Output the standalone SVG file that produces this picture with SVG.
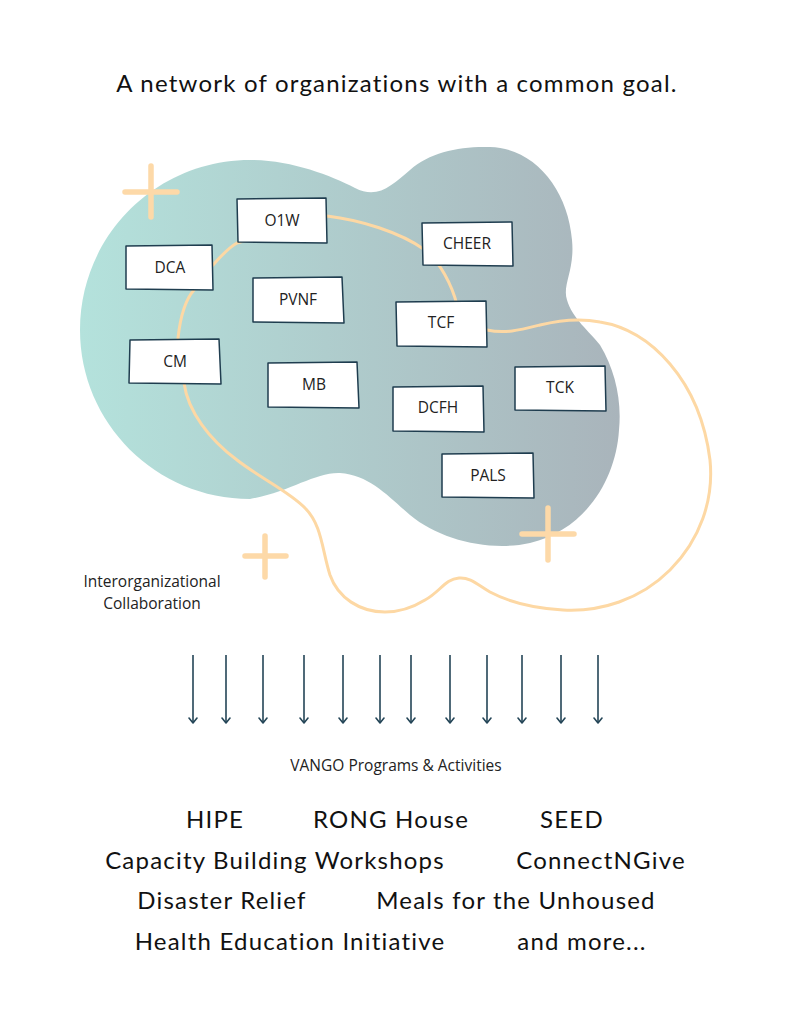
<svg xmlns="http://www.w3.org/2000/svg" width="791" height="1024" viewBox="0 0 791 1024">
<defs>
<linearGradient id="blobGrad" x1="80" y1="0" x2="620" y2="0" gradientUnits="userSpaceOnUse">
<stop offset="0" stop-color="#b4e2dc"/>
<stop offset="1" stop-color="#a9b4bb"/>
</linearGradient>
<marker id="arrow" viewBox="0 0 10 10" refX="9" refY="5" markerWidth="10" markerHeight="10" markerUnits="userSpaceOnUse" orient="auto">
<path d="M4,1 L9,5 L4,9" fill="none" stroke="#244557" stroke-width="1.6" stroke-linecap="round" stroke-linejoin="round"/>
</marker>
<style>
.box{fill:#ffffff;stroke:#1f3d4f;stroke-width:1.5;stroke-linejoin:round}
.lbl{font-family:"Open Sans","Noto Sans",sans-serif;font-size:15.5px;fill:#222;text-anchor:middle}
.loop{fill:none;stroke:#fdd8a4;stroke-width:3;stroke-linecap:round}
.plus{fill:none;stroke:#fdd9a8;stroke-width:5.5;stroke-linecap:round}
.arr{stroke:#244557;stroke-width:1.6;fill:none}
.big{font-family:"Lato","Noto Sans",sans-serif;font-size:24px;letter-spacing:1.2px;fill:#111;text-anchor:middle}
.small{font-family:"Open Sans","Noto Sans",sans-serif;font-size:15.5px;fill:#222;text-anchor:middle}
</style>
</defs>
<rect width="791" height="1024" fill="#ffffff"/>
<text class="big" x="397" y="92">A network of organizations with a common goal.</text>

<g id="blob">
<path d="M80,330 C80,236 156,160 250,160 C290,160 330,175 355,188 C378,200 392,185 410,170 C430,152 460,146 490,147 C535,148 568,190 572,240 C575,270 562,285 567,300 C572,318 590,332 600,345 C615,370 622,400 619,430 C616,480 585,530 530,543 C490,552 440,540 410,515 C390,498 370,475 340,473 C315,472 290,492 250,499 C156,499 80,423 80,330 Z" fill="url(#blobGrad)"/>
</g>

<g id="decor">
<path class="plus" d="M151,166 V217 M125,192 H177"/>
<path class="plus" d="M265,536 V577 M245,556 H286"/>
<path class="plus" d="M548,508 V560 M522,534 H574"/>
</g>

<g id="connectors">
<path class="loop" d="M327,216 C360,220 400,232 425,250 C440,262 452,285 457,305 C465,320 475,328 487,330 C505,334 520,330 540,325 C560,320 580,318 600,322 C650,330 700,380 710,460 C714,500 700,540 670,570 C640,600 600,612 563,610 C530,608 505,600 490,592 C478,585 470,577 459,578 C445,579 440,592 425,600 C412,608 398,612 385,612 C360,612 338,598 330,575 C322,550 322,525 305,508 C290,492 260,478 237,460 C210,440 188,412 184,383 C180,360 178,345 178,338 C180,320 185,300 194,290 C200,280 205,270 213,265 C220,257 228,248 237,243 Z"/>
<g id="arrows">
<line class="arr" x1="193" y1="655" x2="193" y2="723" marker-end="url(#arrow)"/>
<line class="arr" x1="226" y1="655" x2="226" y2="723" marker-end="url(#arrow)"/>
<line class="arr" x1="263" y1="655" x2="263" y2="723" marker-end="url(#arrow)"/>
<line class="arr" x1="304" y1="655" x2="304" y2="723" marker-end="url(#arrow)"/>
<line class="arr" x1="343" y1="655" x2="343" y2="723" marker-end="url(#arrow)"/>
<line class="arr" x1="380" y1="655" x2="380" y2="723" marker-end="url(#arrow)"/>
<line class="arr" x1="411" y1="655" x2="411" y2="723" marker-end="url(#arrow)"/>
<line class="arr" x1="450" y1="655" x2="450" y2="723" marker-end="url(#arrow)"/>
<line class="arr" x1="487" y1="655" x2="487" y2="723" marker-end="url(#arrow)"/>
<line class="arr" x1="522" y1="655" x2="522" y2="723" marker-end="url(#arrow)"/>
<line class="arr" x1="561" y1="655" x2="561" y2="723" marker-end="url(#arrow)"/>
<line class="arr" x1="598" y1="655" x2="598" y2="723" marker-end="url(#arrow)"/>
</g>
</g>

<g id="node-O1W"><path class="box" d="M237,199 L326,198 L327,243 L238,242 Z"/><text class="lbl" x="282" y="226">O1W</text></g>
<g id="node-DCA"><path class="box" d="M126,246 L212,245 L213,290 L126,289 Z"/><text class="lbl" x="170" y="273">DCA</text></g>
<g id="node-CHEER"><path class="box" d="M422,223 L512,222 L513,266 L423,265 Z"/><text class="lbl" x="467" y="249">CHEER</text></g>
<g id="node-PVNF"><path class="box" d="M253,278 L342,277 L344,323 L253,322 Z"/><text class="lbl" x="298" y="305">PVNF</text></g>
<g id="node-TCF"><path class="box" d="M396,302 L486,301 L487,347 L397,346 Z"/><text class="lbl" x="441" y="328">TCF</text></g>
<g id="node-CM"><path class="box" d="M130,340 L219,339 L221,384 L129,383 Z"/><text class="lbl" x="175" y="367">CM</text></g>
<g id="node-MB"><path class="box" d="M268,363 L357,362 L359,408 L268,407 Z"/><text class="lbl" x="314" y="390">MB</text></g>
<g id="node-DCFH"><path class="box" d="M393,387 L483,386 L484,432 L393,431 Z"/><text class="lbl" x="438" y="413">DCFH</text></g>
<g id="node-TCK"><path class="box" d="M515,367 L605,366 L606,411 L515,410 Z"/><text class="lbl" x="560" y="393">TCK</text></g>
<g id="node-PALS"><path class="box" d="M442,454 L533,453 L534,498 L442,497 Z"/><text class="lbl" x="488" y="481">PALS</text></g>

<g id="labels">
<text class="small" x="152" y="587">Interorganizational</text>
<text class="small" x="152" y="609">Collaboration</text>
<text class="small" x="396" y="771">VANGO Programs &amp; Activities</text>
<text class="big" x="215" y="828">HIPE</text>
<text class="big" x="391" y="828">RONG House</text>
<text class="big" x="572" y="828">SEED</text>
<text class="big" x="275" y="869">Capacity Building Workshops</text>
<text class="big" x="601" y="869">ConnectNGive</text>
<text class="big" x="222" y="909">Disaster Relief</text>
<text class="big" x="516" y="909">Meals for the Unhoused</text>
<text class="big" x="290" y="950">Health Education Initiative</text>
<text class="big" x="582" y="950">and more...</text>
</g>
</svg>
